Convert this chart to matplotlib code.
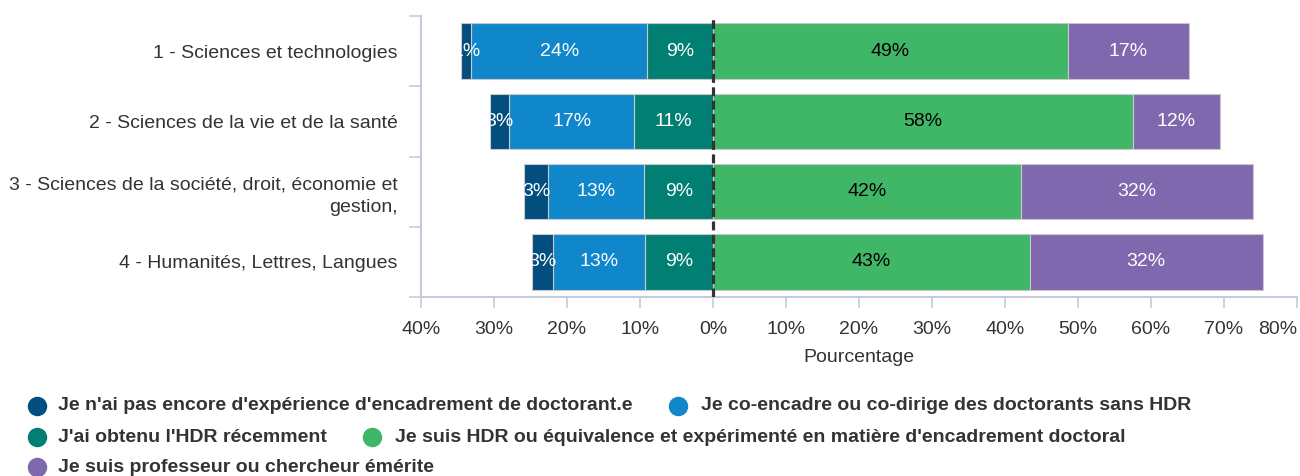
import matplotlib
matplotlib.use("Agg")
import matplotlib.pyplot as plt
from matplotlib.lines import Line2D
from matplotlib.ticker import FixedLocator
import numpy as np

plt.rcParams['font.family'] = ['Liberation Sans', 'DejaVu Sans']

categories = [
    "1 - Sciences et technologies",
    "2 - Sciences de la vie et de la santé",
    "3 - Sciences de la société, droit, économie et\ngestion,",
    "4 - Humanités, Lettres, Langues",
]
series_names = [
    "Je n'ai pas encore d'expérience d'encadrement de doctorant.e",
    "Je co-encadre ou co-dirige des doctorants sans HDR",
    "J'ai obtenu l'HDR récemment",
    "Je suis HDR ou équivalence et expérimenté en matière d'encadrement doctoral",
    "Je suis professeur ou chercheur émérite",
]
# negative side (outer -> inner)
no_exp = [1.4, 2.6, 3.3, 2.9]
co_enc = [24.1, 17.1, 13.2, 12.6]
hdr_recent = [9.0, 10.8, 9.4, 9.3]
# positive side
hdr_exp = [48.6, 57.6, 42.2, 43.4]
emerite = [16.6, 11.8, 31.8, 31.9]

colors = ["#024f7f", "#1187cb", "#027f73", "#40b667", "#7f68ad"]
label_colors = ["white", "white", "white", "black", "white"]
xticks = [-40, -30, -20, -10, 0, 10, 20, 30, 40, 50, 60, 70, 80]
xticklabels = [f"{abs(v)}%" for v in xticks]

W, H = 1300, 476
fig = plt.figure(figsize=(W / 100, H / 100), dpi=100)
ax = fig.add_axes([421 / W, 1 - 297 / H, (1297 - 421) / W, (297 - 16) / H])

y = np.arange(len(categories))
bh = 0.79
edge = "#c9c9c9"
FS = 14

neg_series = [(hdr_recent, 2), (co_enc, 1), (no_exp, 0)]
left = np.zeros(len(categories))
for vals, ci in neg_series:
    v = np.array(vals)
    ax.barh(y, -v, left=-left, height=bh, color=colors[ci], edgecolor=edge, linewidth=0.8)
    for yi, (l, w) in enumerate(zip(left, v)):
        ax.text(-(l + w / 2), yi, f"{w:.0f}%", ha="center", va="center",
                color=label_colors[ci], fontsize=FS)
    left = left + v

pos_series = [(hdr_exp, 3), (emerite, 4)]
left = np.zeros(len(categories))
for vals, ci in pos_series:
    v = np.array(vals)
    ax.barh(y, v, left=left, height=bh, color=colors[ci], edgecolor=edge, linewidth=0.8)
    for yi, (l, w) in enumerate(zip(left, v)):
        ax.text(l + w / 2, yi, f"{w:.0f}%", ha="center", va="center",
                color=label_colors[ci], fontsize=FS)
    left = left + v

ax.axvline(0, color="#333333", lw=2.3, dashes=(2.8, 1.4), zorder=5)

ax.set_xlim(-40, 80)
ax.set_ylim(len(categories) - 0.5, -0.5)
ax.set_xticks(xticks)
ax.set_xticklabels(xticklabels, fontsize=FS, color="#333333")
ax.get_xticklabels()[-1].set_horizontalalignment("right")
ax.set_yticks(y)
ax.set_yticklabels(categories, fontsize=FS, color="#333333", ha="right",
                   multialignment="right", linespacing=1.45)
ax.yaxis.set_minor_locator(FixedLocator(np.arange(-0.5, len(categories), 1.0)))
ax.tick_params(axis="y", which="major", length=0, pad=17)
ax.tick_params(axis="y", which="minor", length=9, width=1.2, color="#c5cbdc", direction="out")
ax.tick_params(axis="x", which="major", length=8, width=1.2, color="#c5cbdc", pad=9)
for s in ["top", "right"]:
    ax.spines[s].set_visible(False)
for s in ["left", "bottom"]:
    ax.spines[s].set_color("#c5cbdc")
    ax.spines[s].set_linewidth(1.5)
ax.set_xlabel("Pourcentage", fontsize=FS, color="#333333", labelpad=8)

legend_rows = [
    [(0, 37, 58), (1, 678, 701)],
    [(2, 37, 58), (3, 372, 395)],
    [(4, 37, 58)],
]
row_y = [406, 437, 467]
for row, yy in zip(legend_rows, row_y):
    for si, mx, tx in row:
        fig.add_artist(Line2D([mx / W], [1 - yy / H], marker="o", markersize=13,
                              color=colors[si], linestyle="none",
                              transform=fig.transFigure))
        fig.text(tx / W, 1 - yy / H, series_names[si], fontsize=FS, fontweight="bold",
                 color="#333333", ha="left", va="center")

fig.savefig("out.png", dpi=100)
